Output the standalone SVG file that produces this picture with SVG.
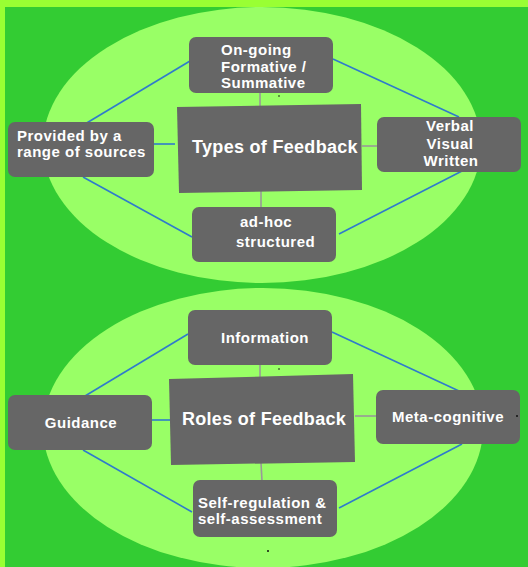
<svg xmlns="http://www.w3.org/2000/svg" width="528" height="567" viewBox="0 0 528 567">
<style>
.node{fill:#666666;}
.t{fill:#ffffff;font-family:"Liberation Sans",Arial,sans-serif;font-weight:bold;font-size:15px;letter-spacing:0.5px;}
.big{font-size:18px;letter-spacing:0.3px;}
.blue{stroke:#2f7bcc;stroke-width:1.6;fill:none;}
.gray{stroke:#999999;stroke-width:1.6;fill:none;}
.dot{fill:#111111;}
</style>
<rect x="0" y="0" width="528" height="567" fill="#99ff33"/>
<rect x="5" y="7" width="523" height="560" fill="#33cc33"/>
<ellipse cx="262" cy="145" rx="219" ry="138" fill="#99ff66"/>
<ellipse cx="263" cy="428" rx="220" ry="140" fill="#99ff66"/>
<g id="connectors">
<line class="gray" x1="260" y1="93" x2="260" y2="106"/>
<line class="gray" x1="261" y1="191" x2="261" y2="207"/>
<line class="blue" x1="154" y1="144" x2="175" y2="144"/>
<line class="gray" x1="362" y1="146" x2="383" y2="146"/>
<line class="blue" x1="190" y1="61" x2="85" y2="124"/>
<line class="blue" x1="333" y1="59" x2="459" y2="117"/>
<line class="blue" x1="83" y1="177" x2="192" y2="237"/>
<line class="blue" x1="462" y1="171" x2="339" y2="234"/>
<line class="gray" x1="260" y1="365" x2="260" y2="377"/>
<line class="gray" x1="261" y1="463" x2="262" y2="481"/>
<line class="blue" x1="152" y1="420" x2="172" y2="420"/>
<line class="gray" x1="355" y1="416" x2="377" y2="416"/>
<line class="blue" x1="188" y1="334" x2="85" y2="396"/>
<line class="blue" x1="332" y1="332" x2="459" y2="391"/>
<line class="blue" x1="83" y1="450" x2="192" y2="512"/>
<line class="blue" x1="462" y1="444" x2="339" y2="508"/>
</g>
<g id="types">
<polygon class="node" points="177,107 361,104 362,190 179,193"/>
<text class="t big" x="275" y="153" text-anchor="middle">Types of Feedback</text>
</g>
<g id="ongoing">
<rect class="node" x="189" y="37" width="144" height="56" rx="7"/>
<text class="t" x="221" y="55">On-going</text>
<text class="t" x="221" y="72">Formative /</text>
<text class="t" x="221" y="88">Summative</text>
</g>
<g id="provided">
<rect class="node" x="8" y="122" width="146" height="55" rx="7"/>
<text class="t" x="17" y="141">Provided by a</text>
<text class="t" x="17" y="157">range of sources</text>
</g>
<g id="verbal">
<rect class="node" x="377" y="117" width="144" height="55" rx="7"/>
<text class="t" x="450" y="131" text-anchor="middle">Verbal</text>
<text class="t" x="450" y="149" text-anchor="middle">Visual</text>
<text class="t" x="451" y="166" text-anchor="middle">Written</text>
</g>
<g id="adhoc">
<rect class="node" x="192" y="207" width="144" height="55" rx="7"/>
<text class="t" x="240" y="227">ad-hoc</text>
<text class="t" x="236" y="247">structured</text>
</g>
<g id="roles">
<polygon class="node" points="169,379 353,374 355,462 171,465"/>
<text class="t big" x="264" y="425" text-anchor="middle">Roles of Feedback</text>
</g>
<g id="information">
<rect class="node" x="188" y="310" width="144" height="55" rx="7"/>
<text class="t" x="265" y="343" text-anchor="middle">Information</text>
</g>
<g id="guidance">
<rect class="node" x="8" y="395" width="144" height="55" rx="7"/>
<text class="t" x="81" y="428" text-anchor="middle">Guidance</text>
</g>
<g id="metacognitive">
<rect class="node" x="376" y="390" width="144" height="54" rx="7"/>
<text class="t" x="448" y="422" text-anchor="middle">Meta-cognitive</text>
</g>
<g id="selfreg">
<rect class="node" x="193" y="480" width="144" height="57" rx="7"/>
<text class="t" x="198" y="508">Self-regulation &amp;</text>
<text class="t" x="198" y="524">self-assessment</text>
</g>
<circle class="dot" cx="279" cy="96" r="0.8"/>
<circle class="dot" cx="279" cy="369" r="0.8"/>
<circle class="dot" cx="517" cy="416" r="1"/>
<circle class="dot" cx="268" cy="551" r="1"/>
</svg>
